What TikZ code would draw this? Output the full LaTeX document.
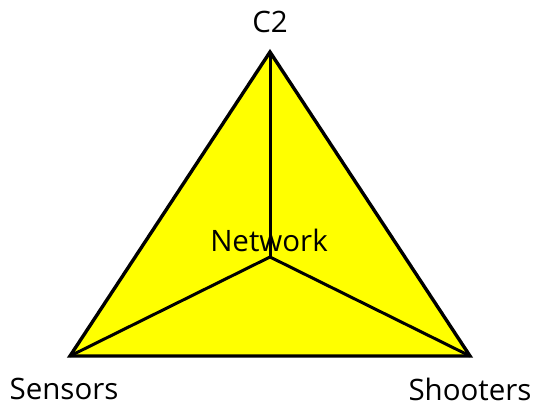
\documentclass[tikz,border=0pt]{standalone}
\usepackage{fontspec}
\setmainfont{Open Sans}
\definecolor{trifill}{RGB}{255,255,0}
\begin{document}
\begin{tikzpicture}[x=1pt,y=1pt,
  lbl/.style={inner sep=0pt, font=\fontsize{29.5}{34}\selectfont},
  edge/.style={line width=3.4pt, line join=miter},
  spoke/.style={line width=3pt}]
\useasboundingbox (0,0) rectangle (537,407);
\coordinate (top) at (270,355);
\coordinate (bl) at (70,51);
\coordinate (br) at (470,51);
\coordinate (ctr) at (270,150);
\fill[trifill] (top) -- (br) -- (bl) -- cycle;
\draw[spoke] (top) -- (ctr);
\draw[spoke] (bl) -- (ctr);
\draw[spoke] (br) -- (ctr);
\draw[edge] (top) -- (br) -- (bl) -- cycle;
\node[lbl] (net) at (269,167) {Network};
\node[lbl] (c2) at (270,385) {C2};
\node[lbl] (sens) at (64,18) {Sensors};
\node[lbl] (shoot) at (470,18) {Shooters};
\end{tikzpicture}
\end{document}
